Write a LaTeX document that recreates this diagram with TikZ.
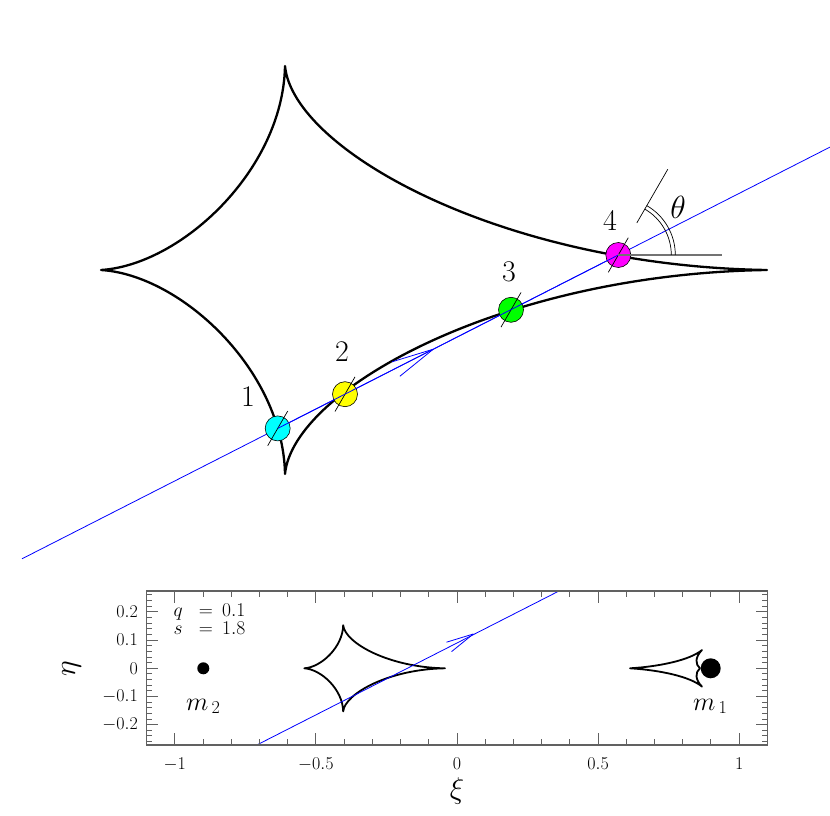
\RequirePackage{fix-cm}
\documentclass[tikz,border=0pt]{standalone}
\definecolor{fgray}{gray}{0.38}
\definecolor{hgray}{gray}{0.45}
\definecolor{pcyan}{RGB}{0,255,255}
\definecolor{pyellow}{RGB}{255,255,0}
\definecolor{pgreen}{RGB}{0,255,0}
\definecolor{pmagenta}{RGB}{255,0,255}
\newcommand{\drawplancaustic}[1]{%
  \draw[#1] (0,0) .. controls (80,5) and (182,100) .. (184,204)
    .. controls (192,120) and (400,4) .. (666,0)
    .. controls (400,-4) and (192,-120) .. (184,-204)
    .. controls (182,-100) and (80,-5) .. (0,0) -- cycle;}
\begin{document}
\begin{tikzpicture}[x=1pt,y=1pt,
  caus/.style={line width=2.3pt, line join=round},
  traj/.style={blue, line width=0.8pt},
  ptmark/.style={circle, draw=black, line width=0.6pt, minimum size=25pt, inner sep=0pt},
  numlab/.style={font=\fontsize{30}{32}\selectfont},
  tickline/.style={fgray, line width=1pt},
  ticklab/.style={font=\fontsize{18}{20}\selectfont, inner sep=1pt},
  parlab/.style={font=\fontsize{19.5}{21}\selectfont, anchor=base west, inner sep=0pt},
  masslab/.style={font=\fontsize{26}{28}\selectfont, anchor=base west, inner sep=0pt},
  axlab/.style={font=\fontsize{30}{32}\selectfont},
  thinblack/.style={black, line width=0.7pt},
]
\useasboundingbox (0,0) rectangle (830,815);

% ================= top panel =================
\begin{scope}[shift={(101,545)}]
  \drawplancaustic{caus}
\end{scope}

\coordinate (tA) at (22,256.2);
\coordinate (tB) at (830,667.9);
\draw[traj] (tA) -- (tB);
\coordinate (tTip) at (433.3,465.8);
\draw[traj] (tTip) -- ++(197:43);
\draw[traj] (tTip) -- ++(219:43);

\node[ptmark, fill=pcyan] (c1) at (277.7,386.6) {};
\node[ptmark, fill=pyellow] (c2) at (345,420.8) {};
\node[ptmark, fill=pgreen] (c3) at (511,505.2) {};
\node[ptmark, fill=pmagenta] (c4) at (618.3,560) {};

\foreach \c in {c1,c2,c3,c4} {
  \draw[thinblack] (\c.center) ++(240:20) -- ++(60:40);
}
\draw[traj] (c1.center) -- (c4.center);

\coordinate (hEnd) at (721.7,560);
\draw[hgray, line width=1.2pt] (c4.center) -- (hEnd);
\draw[thinblack] (c4.center) ++(60:37) -- ++(60:62);
\draw[thinblack] (c4.center) ++(0:53) arc (0:60:53);
\draw[thinblack] (c4.center) ++(0:57) arc (0:60:57);

\node[numlab] (l1) at (248,418) {1};
\node[numlab] (l2) at (342,463) {2};
\node[numlab] (l3) at (509,543) {3};
\node[numlab] (l4) at (610,595) {4};
\node[numlab, font=\fontsize{32}{34}\selectfont] (lth) at (678,608) {$\theta$};

% ================= bottom panel =================
\begin{scope}[shift={(304.3,146.7)}, scale=0.2113]
  \drawplancaustic{caus, line width=1.8pt}
\end{scope}
\draw[caus, line width=1.8pt] (630,146.7) .. controls (660,148.5) and (690,155) .. (702,165)
  .. controls (695,158) and (695,150.5) .. (700,146.7)
  .. controls (695,142.9) and (695,135.4) .. (702,128.4)
  .. controls (690,138.4) and (660,144.9) .. cycle;

\node[circle, fill=black, minimum size=12pt, inner sep=0pt] (m2) at (203.3,146.7) {};
\node[circle, fill=black, minimum size=20pt, inner sep=0pt] (m1) at (710.7,146.7) {};

\coordinate (bA) at (256.8,70);
\coordinate (bB) at (559,224);
\draw[traj] (bA) -- (bB);
\coordinate (bTip) at (473.3,181);
\draw[traj] (bTip) -- ++(197:28);
\draw[traj] (bTip) -- ++(219:28);

% frame
\draw[fgray, line width=1.3pt] (146.7,70) rectangle (767.3,224);
\foreach \i in {-10,...,10} {
  \pgfmathsetmacro{\xx}{457+28.215*\i}
  \pgfmathsetmacro{\tl}{ifthenelse(mod(abs(\i),5)==0,12,6)}
  \draw[tickline] (\xx,70) -- ++(0,\tl);
  \draw[tickline] (\xx,224) -- ++(0,-\tl);
}
\foreach \j in {-13,...,13} {
  \pgfmathsetmacro{\yy}{146.7+5.64*\j}
  \pgfmathsetmacro{\tl}{ifthenelse(mod(abs(\j),5)==0,11,5.5)}
  \draw[tickline] (146.7,\yy) -- ++(\tl,0);
  \draw[tickline] (767.3,\yy) -- ++(-\tl,0);
}
\foreach \v/\t in {-1/$-1$, -0.5/$-0.5$, 0/$0$, 0.5/$0.5$, 1/$1$} {
  \node[ticklab, anchor=base] at ({457+282.15*\v},45.7) {\t};
}
\foreach \v/\t in {0.2/$0.2$, 0.1/$0.1$, 0/$0$, -0.1/$-0.1$, -0.2/$-0.2$} {
  \node[ticklab, anchor=east] at (139,{146.7+282*\v}) {\t};
}

\node[parlab] (qn) at (173.3,199) {$q$};
\node[parlab, anchor=base] (qe) at (206,199) {$=$};
\node[parlab] (qv) at (222,199) {$0.1$};
\node[parlab] (sn) at (173.3,180.7) {$s$};
\node[parlab, anchor=base] (se) at (206,180.7) {$=$};
\node[parlab] (sv) at (222,180.7) {$1.8$};

\node[masslab] (lm2) at (186,105) {$m_{\,2}$};
\node[masslab] (lm1) at (693,105) {$m_{\,1}$};

\node[axlab, rotate=90] (eta) at (71.7,146.7) {$\eta$};
\node[axlab] (xi) at (457,24) {$\xi$};
\end{tikzpicture}
\end{document}
